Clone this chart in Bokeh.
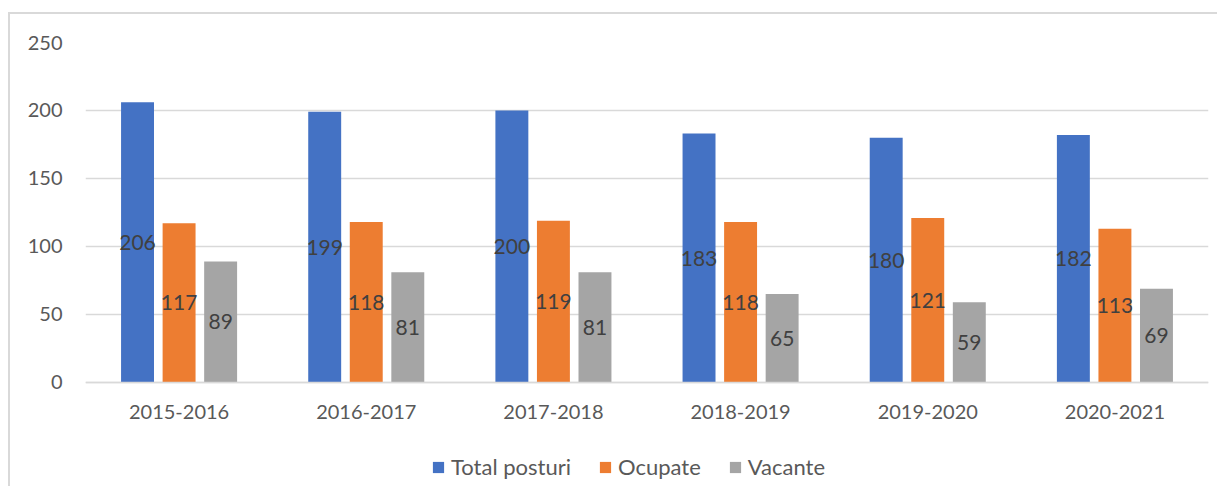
from bokeh.plotting import figure
from bokeh.models import ColumnDataSource, LabelSet, Legend, LegendItem, FixedTicker
from bokeh.transform import dodge
from bokeh.core.properties import value
from bokeh.embed import file_html
from bokeh.resources import INLINE

categories = ["2015-2016", "2016-2017", "2017-2018", "2018-2019", "2019-2020", "2020-2021"]
total_posturi = [206, 199, 200, 183, 180, 182]
ocupate = [117, 118, 119, 118, 121, 113]
vacante = [89, 81, 81, 65, 59, 69]
series_names = ["Total posturi", "Ocupate", "Vacante"]
y_ticks = [0, 50, 100, 150, 200, 250]

colors = ["#4472C4", "#ED7D31", "#A5A5A5"]
FONT = "Lato"

src = ColumnDataSource(dict(
    cat=categories,
    total=total_posturi, occ=ocupate, vac=vacante,
    total_h=[v / 2 for v in total_posturi],
    occ_h=[v / 2 for v in ocupate],
    vac_h=[v / 2 for v in vacante],
    total_t=[str(v) for v in total_posturi],
    occ_t=[str(v) for v in ocupate],
    vac_t=[str(v) for v in vacante],
))

W, H = 1209, 474
p = figure(x_range=categories, y_range=(-76.5, 250), width=W, height=H,
           output_backend="svg", toolbar_location=None,
           min_border_left=75, min_border_right=11, min_border_top=28,
           min_border_bottom=2)
p.styles = {"border-left": "2px solid #D9D9D9", "border-top": "2px solid #D9D9D9",
            "margin-top": "12px", "margin-left": "8px"}
p.outline_line_color = None
p.background_fill_color = "white"
p.border_fill_color = "white"

offs = [-0.222, 0.0, 0.222]
cols = ["total", "occ", "vac"]
renderers = []
for off, col, c in zip(offs, cols, colors):
    r = p.vbar(x=dodge("cat", off, range=p.x_range), top=col, width=0.176,
               source=src, fill_color=c, line_color=None)
    renderers.append(r)
    lbl = LabelSet(x=dodge("cat", off, range=p.x_range), y=col + "_h", text=col + "_t",
                   source=src, text_align="center", text_baseline="middle",
                   text_font=value(FONT), text_font_size=value("21px"),
                   text_color="#404040")
    p.add_layout(lbl)

p.yaxis.ticker = FixedTicker(ticks=y_ticks)
p.yaxis.axis_line_color = None
p.yaxis.major_tick_line_color = None
p.yaxis.minor_tick_line_color = None
p.yaxis.major_label_standoff = 17
p.yaxis.major_label_text_font = FONT
p.yaxis.major_label_text_font_size = "20px"
p.yaxis.major_label_text_color = "#595959"

p.xaxis.fixed_location = 0
p.xaxis.axis_line_color = "#D9D9D9"
p.xaxis.axis_line_width = 1.5
p.xaxis.major_tick_line_color = None
p.xaxis.minor_tick_line_color = None
p.xaxis.major_tick_out = 0
p.xaxis.major_label_standoff = 23
p.xaxis.major_label_text_font = FONT
p.xaxis.major_label_text_font_size = "20px"
p.xaxis.major_label_text_color = "#595959"

p.xgrid.grid_line_color = None
p.ygrid.grid_line_color = "#D9D9D9"
p.ygrid.grid_line_width = 1.5
p.ygrid.ticker = FixedTicker(ticks=y_ticks)

items = [LegendItem(label=n, renderers=[r]) for n, r in zip(series_names, renderers)]
legend = Legend(items=items, orientation="horizontal", location=(346, 6),
                glyph_width=14, glyph_height=14, label_standoff=6, spacing=27,
                padding=0, margin=0, border_line_color=None, background_fill_alpha=0,
                label_text_font=FONT, label_text_font_size="22px",
                label_text_color="#595959")
p.add_layout(legend, "center")

open("out.html", "w").write(file_html(p, INLINE))
